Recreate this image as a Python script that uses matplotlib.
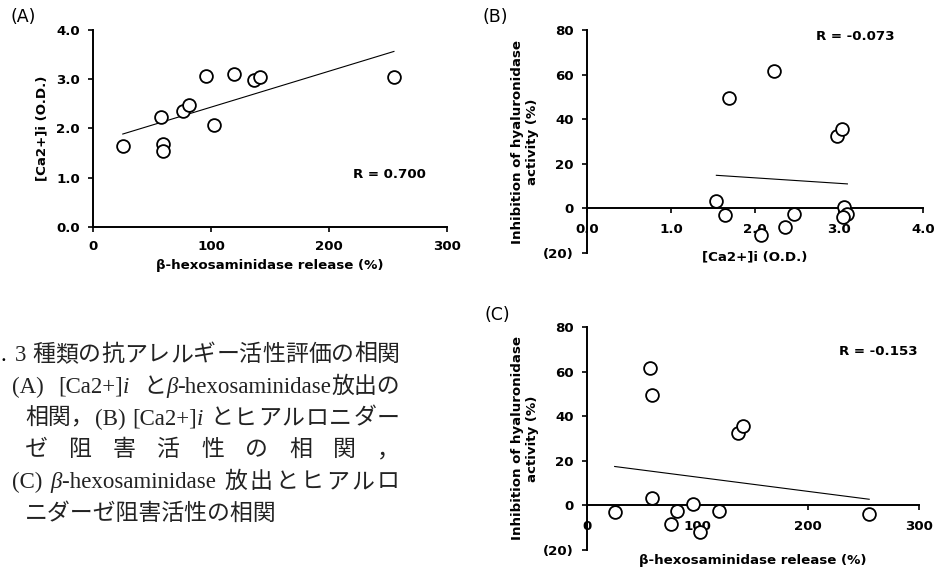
import numpy as np
import matplotlib
matplotlib.use('Agg')
import matplotlib.pyplot as plt
from matplotlib.ticker import FuncFormatter

# 12 extracts
hex_release = [25, 57, 59, 59, 76, 81, 96, 102, 119, 136, 141, 255]       # beta-hexosaminidase release (%)
ca_od = [1.64, 2.23, 1.69, 1.54, 2.36, 2.47, 3.06, 2.07, 3.10, 2.98, 3.04, 3.05]  # [Ca2+]i (O.D.)
hyal_inhib = [-2.8, 61.6, 49.5, 3.5, -8.3, -2.4, 0.7, -12.0, -2.6, 32.5, 35.8, -4.0]  # inhibition (%)

r_labels = ['R = 0.700', 'R = -0.073', 'R = -0.153']
panel_names = ['(A)', '(B)', '(C)']

W, H = 935, 572
FS = 9.6
plt.rcParams['font.family'] = 'DejaVu Sans'
fig = plt.figure(figsize=(W / 100, H / 100), dpi=100)


def px_axes(left, top, right, bottom):
    return fig.add_axes([left / W, 1 - bottom / H, (right - left) / W, (bottom - top) / H])


def neg_paren(v, pos):
    return '(%d)' % abs(v) if v < 0 else '%d' % v


def style_axes(ax):
    for s in ['top', 'right']:
        ax.spines[s].set_visible(False)
    for s in ['left', 'bottom']:
        ax.spines[s].set_linewidth(1.4)
    ax.tick_params(direction='out', length=3.5, width=1.2, labelsize=FS, pad=6)
    for lab in ax.get_xticklabels() + ax.get_yticklabels():
        lab.set_fontweight('bold')


def scatter_fit(ax, x, y):
    x = np.asarray(x)
    y = np.asarray(y)
    k, b = np.polyfit(x, y, 1)
    xs = np.array([x.min(), x.max()])
    ax.plot(xs, k * xs + b, color='black', lw=0.8, zorder=3)
    ax.plot(x, y, 'o', ms=9.2, mfc='white', mec='black', mew=1.3, zorder=4)


bold = dict(fontsize=FS, fontweight='bold')

# (A)
axA = px_axes(93.3, 30, 447, 226.7)
scatter_fit(axA, hex_release, ca_od)
axA.set_xlim(0, 300)
axA.set_ylim(0, 4)
axA.set_xticks([0, 100, 200, 300])
axA.set_yticks([0, 1, 2, 3, 4])
axA.yaxis.set_major_formatter(FuncFormatter(lambda v, p: '%.1f' % v))
style_axes(axA)
axA.tick_params(axis='x', pad=6)
axA.set_xlabel('β-hexosaminidase release (%)', va='center', **bold)
axA.xaxis.set_label_coords(0.5, -0.195)
axA.set_ylabel('[Ca2+]i (O.D.)', va='center', **bold)
axA.yaxis.set_label_coords(-0.145, 0.5)
axA.text(0.836, 0.263, r_labels[0], transform=axA.transAxes, ha='center', va='center', **bold)

# (B)
axB = px_axes(587, 30, 923, 253)
scatter_fit(axB, ca_od, hyal_inhib)
axB.set_xlim(0, 4)
axB.set_ylim(-20, 80)
axB.set_xticks([0, 1, 2, 3, 4])
axB.set_yticks([-20, 0, 20, 40, 60, 80])
axB.xaxis.set_major_formatter(FuncFormatter(lambda v, p: '%.1f' % v))
axB.yaxis.set_major_formatter(FuncFormatter(neg_paren))
axB.spines['bottom'].set_position(('data', 0))
style_axes(axB)
axB.tick_params(axis='x', pad=7)
axB.set_xlabel('[Ca2+]i (O.D.)', va='center', **bold)
axB.xaxis.set_label_coords(0.5, -0.018)
axB.set_ylabel('Inhibition of hyaluronidase\nactivity (%)', va='center', linespacing=1.2, **bold)
axB.yaxis.set_label_coords(-0.185, 0.5)
axB.text(0.80, 0.973, r_labels[1], transform=axB.transAxes, ha='center', va='center', **bold)

# (C)
axC = px_axes(587, 327, 919, 550)
scatter_fit(axC, hex_release, hyal_inhib)
axC.set_xlim(0, 300)
axC.set_ylim(-20, 80)
axC.set_xticks([0, 100, 200, 300])
axC.set_yticks([-20, 0, 20, 40, 60, 80])
axC.yaxis.set_major_formatter(FuncFormatter(neg_paren))
axC.spines['bottom'].set_position(('data', 0))
style_axes(axC)
axC.tick_params(axis='x', pad=7)
axC.set_xlabel('β-hexosaminidase release (%)', va='center', **bold)
axC.xaxis.set_label_coords(0.5, -0.049)
axC.set_ylabel('Inhibition of hyaluronidase\nactivity (%)', va='center', linespacing=1.2, **bold)
axC.yaxis.set_label_coords(-0.187, 0.5)
axC.text(0.877, 0.892, r_labels[2], transform=axC.transAxes, ha='center', va='center', **bold)

# panel letters
for name, (x, y) in zip(panel_names, [(23, 17), (495, 17), (497, 315)]):
    fig.text(x / W, 1 - y / H, name, ha='center', va='center', fontsize=12.5)

# Japanese caption (serif latin, CJK fallback), justified lines
cap_family = ['Liberation Serif', 'Noto Sans CJK JP']
CAP = 16.5
renderer = fig.canvas.get_renderer()


def caption_line(words, x0, y, x1=None, size=CAP):
    # words: list of runs [(text, italic), ...]; justify gaps between words up to x1
    placed = []
    total = 0
    for runs in words:
        items = []
        ww = 0
        for s, it in runs:
            t = fig.text(0, 0, s, family=cap_family, style='italic' if it else 'normal',
                         fontsize=size, va='baseline', ha='left', color='#222222')
            w = t.get_window_extent(renderer).width
            items.append((t, w))
            ww += w
        placed.append(items)
        total += ww
    gap = 0
    if x1 is not None and len(placed) > 1:
        gap = (x1 - x0 - total) / (len(placed) - 1)
    x = x0
    base = 1 - (y + 8) / H
    for items in placed:
        for t, w in items:
            t.set_position((x / W, base))
            x += w
        x += gap


def chars(s):
    return [[(c, False)] for c in s]


line_y = [353 + 31.8 * i for i in range(6)]
fig.text(1 / W, 1 - (line_y[0] + 8) / H, '.', family=cap_family, fontsize=CAP, va='baseline')
caption_line([[('3 ', False)]] + chars('種類の抗アレルギー活性評価の相関'), 15, line_y[0], 400)
caption_line([[('(A) ', False)], [('[Ca2+]', False), ('i ', True)],
              [('と', False), ('β', True), ('-hexosaminidase', False), ('放出の', False)]],
             12, line_y[1], 400)
caption_line([[('相関，', False)], [('(B) ', False)], [('[Ca2+]', False), ('i ', True)]]
             + chars('とヒアルロニダー'), 25, line_y[2], 400)
caption_line(chars('ゼ阻害活性の相関，'), 25, line_y[3], 400)
caption_line([[('(C) ', False)], [('β', True), ('-hexosaminidase ', False)]]
             + chars('放出とヒアルロ'), 12, line_y[4], 400)
caption_line([[('ニダーゼ阻害活性の相関', False)]], 25, line_y[5])

fig.savefig('out.png', dpi=100)
